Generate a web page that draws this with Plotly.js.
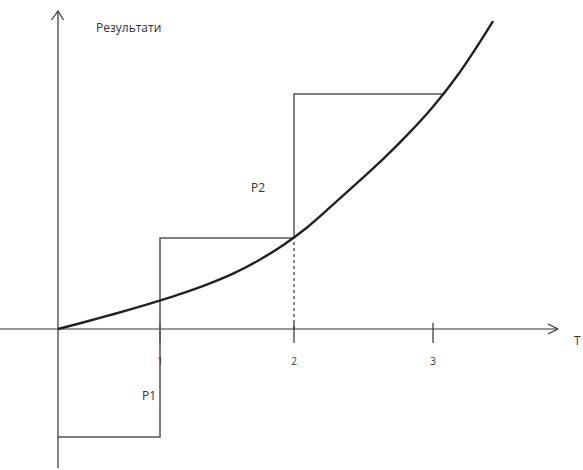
<!DOCTYPE html>
<html><head><meta charset="utf-8">
<script src="https://cdn.plot.ly/plotly-3.0.1.min.js"></script>
<style>html,body{margin:0;padding:0;background:#fff}#chart{width:583px;height:470px}</style>
</head><body><div id="chart"></div>
<script>
// Curve "Результати" over time (drawing units)
const curveX = [0, 0.25, 0.5, 0.75, 1.0, 1.25, 1.5, 1.75, 2.0, 2.25, 2.5, 2.75, 3.0, 3.25, 3.5, 3.75, 4.0, 4.25, 4.35];
const curveY = [0, 0.065, 0.133, 0.203, 0.278, 0.358, 0.448, 0.553, 0.683, 0.838, 1.023, 1.243, 1.468, 1.698, 1.948, 2.223, 2.543, 2.918, 3.078];
// Step outline (P1, P2)
const stepX = [0, 1.02, 1.02, 2.36, 2.36, 3.86];
const stepY = [-1.08, -1.08, 0.91, 0.91, 2.35, 2.35];
// Tick marks and labels on T axis
const tickPos = [1.02, 2.36, 3.75];
const tickLabels = ['1', '2', '3'];
const axisXEnd = 5.0, axisXStart = -0.58;
const axisYTop = 3.18, axisYBottom = -1.39;

const dark = '#333333';
const tx = [], ty = [];
tickPos.forEach(p => { tx.push(p, p, null); ty.push(0.06, -0.14, null); });

const traces = [
  {x: [axisXStart, axisXEnd], y: [0, 0], mode: 'lines', line: {color: dark, width: 1.2}},
  {x: [axisXEnd - 0.1, axisXEnd, axisXEnd - 0.1], y: [0.05, 0, -0.05], mode: 'lines', line: {color: dark, width: 1.2}},
  {x: [0, 0], y: [axisYBottom, axisYTop], mode: 'lines', line: {color: dark, width: 1.2}},
  {x: [-0.065, 0, 0.055], y: [axisYTop - 0.09, axisYTop, axisYTop - 0.09], mode: 'lines', line: {color: dark, width: 1.2}},
  {x: tx, y: ty, mode: 'lines', line: {color: dark, width: 1.2}},
  {x: [tickPos[1], tickPos[1]], y: [0, stepY[2]], mode: 'lines', line: {color: dark, width: 1.2, dash: 'dot'}},
  {x: stepX, y: stepY, mode: 'lines', line: {color: '#555555', width: 1.5}},
  {x: curveX, y: curveY, mode: 'lines', line: {color: '#222222', width: 2.4, shape: 'spline', smoothing: 1}},
  {x: tickPos, y: tickPos.map(() => -0.33), mode: 'text', text: tickLabels,
   textfont: {family: 'Open Sans, sans-serif', size: 10, color: dark}}
];

const layout = {
  width: 583, height: 470,
  margin: {l: 0, r: 0, t: 0, b: 0},
  paper_bgcolor: '#fff', plot_bgcolor: '#fff',
  showlegend: false,
  xaxis: {range: [-0.58, 5.25], visible: false, fixedrange: true},
  yaxis: {range: [-1.41, 3.29], visible: false, fixedrange: true},
  annotations: [
    {x: 0.70, y: 3.02, xref: 'x', yref: 'y', text: 'Результати', showarrow: false,
     font: {family: 'Open Sans, sans-serif', size: 12, color: dark}},
    {x: 5.19, y: -0.11, xref: 'x', yref: 'y', text: 'T', showarrow: false,
     font: {family: 'Open Sans, sans-serif', size: 12, color: dark}},
    {x: 0.91, y: -0.66, xref: 'x', yref: 'y', text: 'P1', showarrow: false,
     font: {family: 'Open Sans, sans-serif', size: 12, color: dark}},
    {x: 2.00, y: 1.42, xref: 'x', yref: 'y', text: 'P2', showarrow: false,
     font: {family: 'Open Sans, sans-serif', size: 12, color: dark}}
  ]
};
Plotly.newPlot('chart', traces, layout, {displayModeBar: false, staticPlot: true});
</script></body></html>
